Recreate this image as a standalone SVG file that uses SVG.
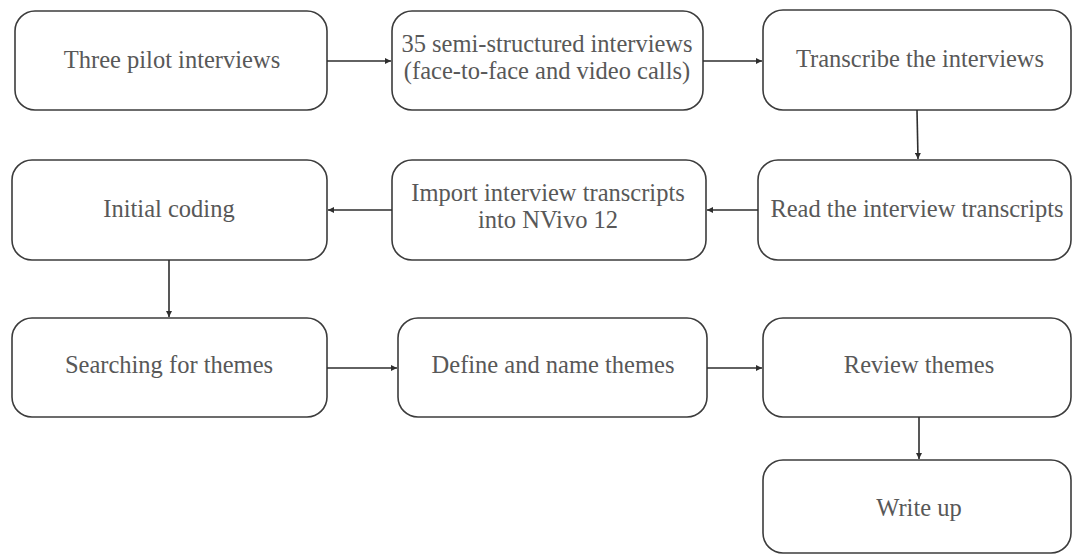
<svg xmlns="http://www.w3.org/2000/svg" width="1073" height="556" viewBox="0 0 1073 556">
  <style>
    .box { fill: #ffffff; stroke: #3c3c3c; stroke-width: 1.6; }
    .link { fill: none; stroke: #2e2e2e; stroke-width: 1.6; marker-end: url(#arrow); }
  </style>
  <defs>
    <marker id="arrow" viewBox="0 0 10 10" refX="10" refY="5" markerWidth="4" markerHeight="4" orient="auto" markerUnits="strokeWidth">
      <path d="M0,0 L10,5 L0,10 z" fill="#2e2e2e"/>
    </marker>
  </defs>
  <rect width="1073" height="556" fill="#ffffff"/>

  <g font-family="Liberation Serif, serif" font-size="24.5" fill="#585858" text-anchor="middle">
  <!-- row 1 -->
  <g id="pilot">
    <rect class="box" x="15" y="11" width="312" height="99" rx="20"/>
    <text x="172" y="68">Three pilot interviews</text>
  </g>
  <g id="semi-structured">
    <rect class="box" x="392" y="11" width="311" height="99" rx="20"/>
    <text x="547" y="52">35 semi-structured interviews</text>
    <text x="547" y="79">(face-to-face and video calls)</text>
  </g>
  <g id="transcribe">
    <rect class="box" x="763" y="10" width="308" height="100" rx="20"/>
    <text x="920" y="67">Transcribe the interviews</text>
  </g>

  <!-- row 2 -->
  <g id="read">
    <rect class="box" x="758" y="160" width="313" height="100" rx="20"/>
    <text x="917" y="217">Read the interview transcripts</text>
  </g>
  <g id="import">
    <rect class="box" x="392" y="160" width="314" height="100" rx="20"/>
    <text x="548" y="201">Import interview transcripts</text>
    <text x="548" y="228">into NVivo 12</text>
  </g>
  <g id="initial-coding">
    <rect class="box" x="12" y="160" width="315" height="100" rx="20"/>
    <text x="169" y="217">Initial coding</text>
  </g>

  <!-- row 3 -->
  <g id="searching">
    <rect class="box" x="12" y="318" width="315" height="99" rx="20"/>
    <text x="169" y="373">Searching for themes</text>
  </g>
  <g id="define">
    <rect class="box" x="398" y="318" width="309" height="99" rx="20"/>
    <text x="553" y="373">Define and name themes</text>
  </g>
  <g id="review">
    <rect class="box" x="763" y="318" width="308" height="99" rx="20"/>
    <text x="919" y="373">Review themes</text>
  </g>

  <!-- row 4 -->
  <g id="write-up">
    <rect class="box" x="763" y="460" width="308" height="93" rx="20"/>
    <text x="919" y="516">Write up</text>
  </g>
  </g>

  <g id="connectors">
    <path class="link" d="M327,61 L391,61"/>
    <path class="link" d="M703,61 L762,61"/>
    <path class="link" d="M917,110 L918,159"/>
    <path class="link" d="M758,210 L707,210"/>
    <path class="link" d="M392,210 L328,210"/>
    <path class="link" d="M169,260 L169,317"/>
    <path class="link" d="M327,368 L397,368"/>
    <path class="link" d="M707,368 L762,368"/>
    <path class="link" d="M919,417 L919,459"/>
  </g>
</svg>
